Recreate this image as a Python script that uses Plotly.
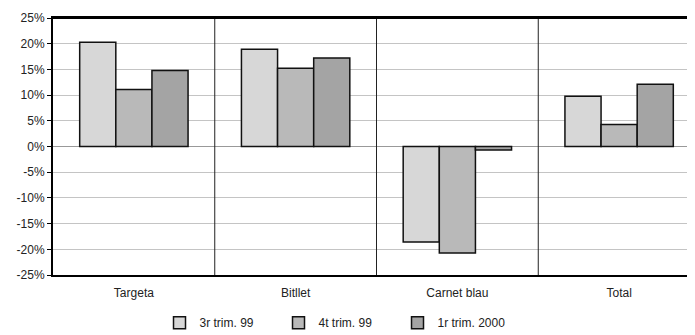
import plotly.graph_objects as go

categories = ["Targeta", "Bitllet", "Carnet blau", "Total"]
series_names = ["3r trim. 99", "4t trim. 99", "1r trim. 2000"]
s_3r99 = [20.3, 18.9, -18.6, 9.8]
s_4t99 = [11.1, 15.2, -20.7, 4.3]
s_1r00 = [14.8, 17.2, -0.7, 12.1]
colors = ["#d7d7d7", "#b9b9b9", "#a4a4a4"]
y_ticks = list(range(-25, 30, 5))
y_ticktext = [f"{v}%" for v in y_ticks]

FONT = "Liberation Sans Narrow, Arial Narrow, Liberation Sans, Arial, sans-serif"

fig = go.Figure()
for name, vals, col in zip(series_names, [s_3r99, s_4t99, s_1r00], colors):
    fig.add_trace(go.Bar(
        x=categories, y=vals, name=name,
        marker=dict(color=col, line=dict(color="#111111", width=1.5)),
    ))

for i in range(len(categories) - 1):
    fig.add_shape(type="line", xref="x", yref="paper", x0=i + 0.5, x1=i + 0.5,
                  y0=0, y1=1, line=dict(color="#222222", width=1))

fig.update_layout(
    width=695, height=335,
    margin=dict(l=45, r=3, t=10, b=68),
    paper_bgcolor="white", plot_bgcolor="white",
    barmode="group", bargap=0.33, bargroupgap=0,
    font=dict(family=FONT, size=12, color="#222222"),
    showlegend=True,
    legend=dict(orientation="h", xref="container", x=0.218, xanchor="left",
                yref="container", y=0.017, yanchor="bottom", font=dict(size=12),
                entrywidth=74, entrywidthmode="pixels", itemwidth=30,
                traceorder="normal"),
    xaxis=dict(range=[-0.5, 3.5], showgrid=False, ticks="", showline=True,
               linecolor="black", linewidth=1.5, mirror=True, automargin=False,
               ticklabelstandoff=6, tickfont=dict(size=12)),
    yaxis=dict(range=[-25, 25], tickvals=y_ticks, ticktext=y_ticktext, showgrid=True,
               gridcolor="#c4c4c4", gridwidth=1, zeroline=True, zerolinecolor="#999999",
               zerolinewidth=1, showline=True, linecolor="black", linewidth=2,
               mirror=False, ticks="outside", ticklen=4, tickcolor="black",
               automargin=False, tickfont=dict(size=12)),
)
fig.add_shape(type="line", xref="paper", yref="paper", x0=0, x1=1, y0=1, y1=1,
              line=dict(color="black", width=2))

fig.write_html("out.html")
